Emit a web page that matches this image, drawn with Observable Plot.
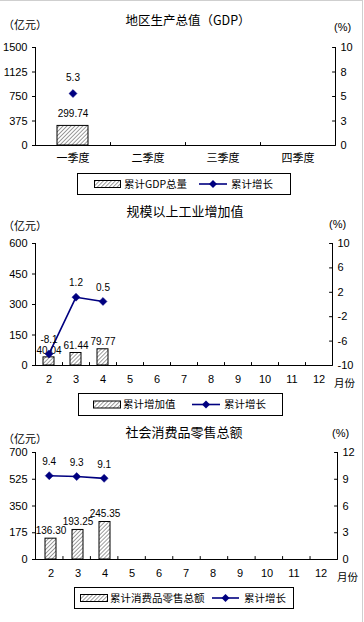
<!DOCTYPE html>
<html><head><meta charset="utf-8">
<script src="https://cdn.jsdelivr.net/npm/d3@7"></script>
<script src="https://cdn.jsdelivr.net/npm/@observablehq/plot@0.6"></script>
<style>
body{margin:0;background:#fff;}
#root{position:relative;width:364px;height:622px;overflow:hidden;font-family:"Noto Sans CJK SC",sans-serif;color:#000;background:#fff;}
.abs{position:absolute;white-space:nowrap;line-height:1;}
.layer{position:absolute;left:0;}
</style></head><body><div id="root"></div>
<script>
// ---------- data ----------
const gdpQuarters = ["一季度", "二季度", "三季度", "四季度"];
const gdpDataQuarters = ["一季度"];
const gdpValues = [299.74];
const gdpGrowth = [5.3];
const gdpLeftTicks = [0, 375, 750, 1125, 1500];
const gdpRightTicks = [0, 2.5, 5, 7.5, 10];

const months = [2, 3, 4, 5, 6, 7, 8, 9, 10, 11, 12];
const dataMonths = [2, 3, 4];

const industryValues = [40.04, 61.44, 79.77];
const industryGrowth = [-8.1, 1.2, 0.5];
const industryLeftTicks = [0, 150, 300, 450, 600];
const industryRightTicks = [-10, -6, -2, 2, 6, 10];

const retailValues = [136.30, 193.25, 245.35];
const retailGrowth = [9.4, 9.3, 9.1];
const retailLeftTicks = [0, 175, 350, 525, 700];
const retailRightTicks = [0, 3, 6, 9, 12];

// ---------- helpers ----------
const root = document.getElementById("root");
const NAVY = "#000080";
const NUM = "Liberation Sans, Arial, sans-serif";
const CJK = "Noto Sans CJK SC, sans-serif";

function addText(txt, x, y, size, opts = {}) {
  const d = document.createElement("div");
  d.className = "abs";
  d.textContent = txt;
  d.style.left = x + "px";
  d.style.top = y + "px";
  d.style.fontSize = size + "px";
  d.style.fontFamily = opts.font || CJK;
  d.style.transform = opts.center ? "translate(-50%,-50%)" : "translate(0,-50%)";
  root.appendChild(d);
  return d;
}

const tickShape = {draw(ctx, l) { ctx.moveTo(0, 0); ctx.lineTo(0, -l); }};

function hatchDefs(svg, id) {
  d3.select(svg).insert("defs", ":first-child").html(
    `<pattern id="${id}" width="2.8" height="2.8" patternUnits="userSpaceOnUse" patternTransform="rotate(45)">
       <rect width="2.8" height="2.8" fill="#fff"/>
       <line x1="0" y1="0" x2="0" y2="2.8" stroke="#3a3a3a" stroke-width="1"/>
     </pattern>`);
}

function panel(cfg) {
  const {top, height, mt, mb, ml, mr, cats, barCats, bars, growth, yMax, leftTicks,
         rightDomain, rightTicks, rightFmt, barDy, lineDy, id, xPad, xFont} = cfg;
  const n = cats.length;
  const barData = barCats.map((c, i) => ({cat: c, v: bars[i]}));
  const lineData = barCats.map((c, i) => ({k: cats.indexOf(c) + 1, v: growth[i]}));
  const common = {
    width: 364, height, marginTop: mt, marginBottom: mb, marginLeft: ml, marginRight: mr,
    style: {fontFamily: NUM, fontSize: "11px", color: "#000", background: "transparent", overflow: "visible"}
  };
  const A = Plot.plot({
    ...common,
    x: {type: "band", domain: cats, paddingInner: 0.59, paddingOuter: 0.295, align: 0.5},
    y: {domain: [0, yMax]},
    marks: [
      Plot.barY(barData, {x: "cat", y: "v", fill: `url(#${id})`, stroke: "#000", strokeWidth: 1}),
      Plot.text(barData, {x: "cat", y: "v", text: d => d.v.toFixed(2), dy: barDy, fontSize: 10, fill: "#000"}),
      Plot.axisY({anchor: "left", ticks: leftTicks, tickSize: 3, tickPadding: 5, tickFormat: d => String(d), label: null, fontSize: 11}),
      Plot.axisX({anchor: "bottom", tickSize: 0, tickPadding: xPad, label: null, fontSize: 11, fontFamily: xFont})
    ]
  });
  hatchDefs(A, id);
  const B = Plot.plot({
    ...common,
    x: {domain: [0.5, n + 0.5], axis: null},
    y: {domain: rightDomain},
    marks: [
      Plot.ruleX([0.5, n + 0.5], {stroke: "#000", strokeWidth: 1}),
      Plot.ruleY([rightDomain[0]], {stroke: "#000", strokeWidth: 1}),
      Plot.vector(d3.range(1, n).map(i => i + 0.5), {x: d => d, frameAnchor: "bottom", length: 3, anchor: "start", shape: tickShape, stroke: "#000", strokeWidth: 1}),
      Plot.vector(rightTicks, {y: d => d, frameAnchor: "right", rotate: -90, length: 3, anchor: "start", shape: tickShape, stroke: "#000", strokeWidth: 1}),
      Plot.axisY({anchor: "right", ticks: rightTicks, tickSize: 0, tickPadding: 5, tickFormat: rightFmt, label: null, fontSize: 11}),
      Plot.line(lineData, {x: "k", y: "v", stroke: NAVY, strokeWidth: 1.6}),
      Plot.dot(lineData, {x: "k", y: "v", symbol: "diamond2", r: 3.6, fill: NAVY, stroke: NAVY, strokeWidth: 0.5}),
      Plot.text(lineData, {x: "k", y: "v", text: d => d.v.toFixed(1), dy: lineDy, fontSize: 10, fill: "#000"})
    ]
  });
  for (const s of [A, B]) {
    const w = document.createElement("div");
    w.className = "layer";
    w.style.top = top + "px";
    w.appendChild(s);
    root.appendChild(w);
  }
}

function legend(cfg) {
  const {left, top, width, height, barLabel, lineLabel, sw1, t1, sw2, t2, id} = cfg;
  const box = document.createElement("div");
  box.className = "abs";
  Object.assign(box.style, {left: left + "px", top: top + "px", width: width + "px", height: height + "px",
    border: "1px solid #000", boxSizing: "border-box"});
  const cy = height / 2 - 1;
  const svg = d3.create("svg").attr("width", width - 2).attr("height", height - 2)
    .style("position", "absolute").style("left", 0).style("top", 0).style("overflow", "visible");
  svg.append("defs").html(
    `<pattern id="${id}" width="2.8" height="2.8" patternUnits="userSpaceOnUse" patternTransform="rotate(45)">
       <rect width="2.8" height="2.8" fill="#fff"/>
       <line x1="0" y1="0" x2="0" y2="2.8" stroke="#3a3a3a" stroke-width="1"/>
     </pattern>`);
  svg.append("rect").attr("x", sw1[0] + 0.5).attr("y", cy - 4 + 0.5).attr("width", sw1[1] - sw1[0]).attr("height", 7)
    .attr("fill", `url(#${id})`).attr("stroke", "#000");
  svg.append("line").attr("x1", sw2[0]).attr("x2", sw2[1]).attr("y1", cy).attr("y2", cy)
    .attr("stroke", NAVY).attr("stroke-width", 1.6);
  const mx = (sw2[0] + sw2[1]) / 2;
  svg.append("path").attr("d", `M${mx},${cy - 4}L${mx + 4},${cy}L${mx},${cy + 4}L${mx - 4},${cy}Z`).attr("fill", NAVY);
  const tstyle = (t, x) => svg.append("text").attr("x", x).attr("y", cy).attr("dy", "0.36em")
    .attr("font-family", CJK).attr("font-size", 10.5).attr("fill", "#000").text(t);
  tstyle(barLabel, t1);
  tstyle(lineLabel, t2);
  box.appendChild(svg.node());
  root.appendChild(box);
}

// frame lines of the picture
const fr = document.createElement("div");
Object.assign(fr.style, {position: "absolute", left: 0, top: 0, width: "363px", height: "622px",
  borderTop: "1px solid #cfcfcf", borderRight: "1px solid #cfcfcf", boxSizing: "border-box"});

// ---------- panel 1: GDP ----------
addText("地区生产总值（GDP）", 188, 20, 12.5, {center: true});
addText("（亿元）", 3, 24, 11);
addText("(%)", 334, 27, 11, {font: NUM});
panel({top: 30, height: 140, mt: 17, mb: 25, ml: 35, mr: 29,
  cats: gdpQuarters, barCats: gdpDataQuarters, bars: gdpValues, growth: gdpGrowth,
  yMax: 1500, leftTicks: gdpLeftTicks, rightDomain: [0, 10], rightTicks: gdpRightTicks,
  rightFmt: d => d.toFixed(0), barDy: -12, lineDy: -16, id: "h1", xPad: 9, xFont: CJK});
legend({left: 77, top: 173, width: 214, height: 22, barLabel: "累计GDP总量", lineLabel: "累计增长",
  sw1: [16, 42], t1: 46, sw2: [121, 149], t2: 153, id: "lh1"});

// ---------- panel 2: industry ----------
addText("规模以上工业增加值", 185, 210, 13, {center: true});
addText("（亿元）", 3, 225, 11);
addText("(%)", 329, 224, 11, {font: NUM});
panel({top: 228, height: 164, mt: 15, mb: 27, ml: 35, mr: 32,
  cats: months, barCats: dataMonths, bars: industryValues, growth: industryGrowth,
  yMax: 600, leftTicks: industryLeftTicks, rightDomain: [-10, 10], rightTicks: industryRightTicks,
  rightFmt: d => String(d), barDy: -7, lineDy: -14, id: "h2", xPad: 10, xFont: NUM});
addText("月份", 334, 383, 10.5);
legend({left: 78, top: 393, width: 205, height: 23, barLabel: "累计增加值", lineLabel: "累计增长",
  sw1: [14, 41], t1: 44, sw2: [113, 141], t2: 145, id: "lh2"});

// ---------- panel 3: retail ----------
addText("社会消费品零售总额", 184, 431, 13, {center: true});
addText("（亿元）", 3, 438, 11);
addText("(%)", 332, 433, 11, {font: NUM});
panel({top: 440, height: 145, mt: 12, mb: 26, ml: 35, mr: 27,
  cats: months, barCats: dataMonths, bars: retailValues, growth: retailGrowth,
  yMax: 700, leftTicks: retailLeftTicks, rightDomain: [0, 12], rightTicks: retailRightTicks,
  rightFmt: d => String(d), barDy: -8, lineDy: -14, id: "h3", xPad: 10, xFont: NUM});
addText("月份", 337, 577, 10.5);
legend({left: 74, top: 587, width: 220, height: 22, barLabel: "累计消费品零售总额", lineLabel: "累计增长",
  sw1: [5, 32], t1: 35, sw2: [137, 164], t2: 169, id: "lh3"});

root.appendChild(fr);
</script></body></html>
